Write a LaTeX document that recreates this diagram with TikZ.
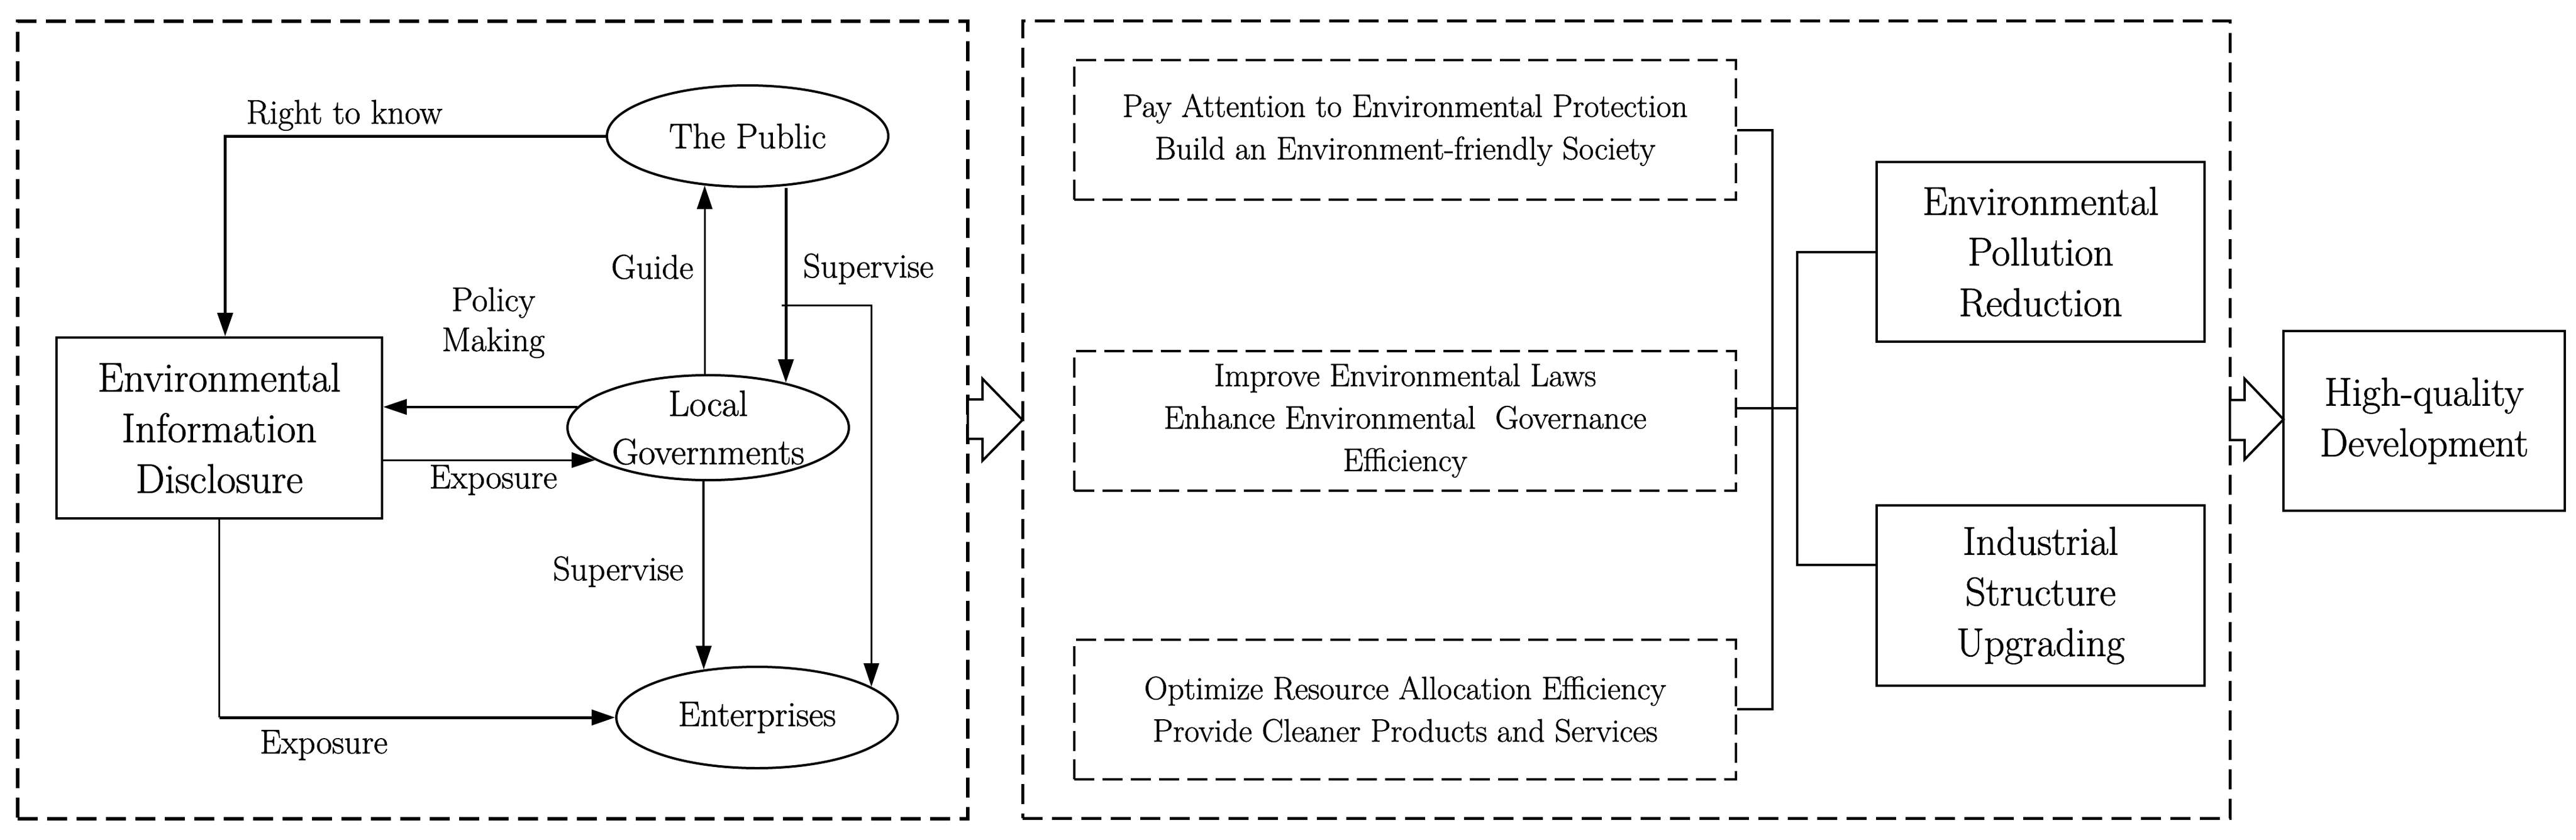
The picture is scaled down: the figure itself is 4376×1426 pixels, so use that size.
\documentclass[tikz,border=0pt]{standalone}
\usepackage{fontspec}
\setmainfont{Latin Modern Roman}[RawFeature={embolden=1.2}]
\usetikzlibrary{arrows.meta,shapes.geometric,calc}
\begin{document}
\begin{tikzpicture}[x=1pt,y=-1pt,
  panel/.style={draw,line width=6pt,dash pattern=on 34pt off 16pt,inner sep=0pt},
  dbox/.style={draw,line width=4pt,dash pattern=on 34pt off 14pt,inner sep=0pt,align=center,
    minimum width=1124pt,minimum height=237pt,font=\fontsize{55}{72}\selectfont},
  sbox/.style={draw,line width=4pt,inner sep=0pt,align=center,font=\fontsize{68}{86}\selectfont},
  ell/.style={draw,ellipse,line width=4pt,inner sep=0pt,align=center,
    minimum width=478pt,minimum height=172pt,font=\fontsize{60}{82}\selectfont},
  lbl/.style={inner sep=0pt,anchor=base,align=center,font=\fontsize{58}{68}\selectfont},
  arr/.style={-{Triangle[length=40pt,width=26pt]}},
  wthick/.style={line width=5pt},
  wmid/.style={line width=4pt},
  wthin/.style={line width=3pt},
  hollow/.style={draw,line width=4pt,fill=white,line join=miter}
]
\useasboundingbox (0,0) rectangle (4376,1426);

% panels
\node[panel,minimum width=1614pt,minimum height=1354pt] (pL) at (837,713) {};
\node[panel,line width=5pt,minimum width=2051pt,minimum height=1353pt] (pM) at (2762.5,712.5) {};

% left panel nodes
\node[sbox,minimum width=553pt,minimum height=307pt,font=\fontsize{70}{86}\selectfont] (eid) at (372.5,726.5)
  {Environmental\\Information\\Disclosure};
\node[ell] (pub) at (1270,231) {The Public};
\node[ell,font=\fontsize{62}{82}\selectfont] (loc) at (1203,726) {Local\\Governments};
\node[ell] (ent) at (1286,1218) {Enterprises};

% labels
\node[lbl] (l1) at (585,210) {Right to know};
\node[lbl] (l2) at (1108,473) {Guide};
\node[lbl] (l3) at (1475,471) {Supervise};
\node[lbl] (l4) at (838,596) {Policy\\Making};
\node[lbl] (l5) at (838,829) {Exposure};
\node[lbl] (l6) at (1050,985) {Supervise};
\node[lbl] (l7) at (550,1279) {Exposure};

% connectors left
\draw[wthick,arr] (pub.west) -| ([xshift=10pt]eid.north);
\draw[wthin,arr] (pub.229.2 |- loc.north) -- (pub.229.2);
\draw[wthick,arr] (loc.30.3 |- pub.south) -- (loc.30.3);
\coordinate (br) at (1328,518);
\draw[wthin,arr] (br) -| (ent.15.8);
\draw[wmid,arr] (loc.171.5) -- (loc.171.5 -| eid.east);
\draw[wthin,arr] (loc.196.3 -| eid.east) -- (loc.196.3);
\draw[wmid,arr] (ent.138.7 |- loc.south) -- (ent.138.7);
\draw[wthin] (eid.south) -- (eid.south |- ent.west) coordinate (ebend);
\draw[wthick,arr] (ebend) -- (ent.west);

% middle panel
\node[dbox] (b1) at (2387,220.5) {Pay Attention to Environmental Protection\\Build an Environment-friendly Society};
\node[dbox] (b2) at (2387,714) {Improve Environmental Laws\\Enhance Environmental~~Governance\\Efficiency};
\node[dbox] (b3) at (2387,1204) {Optimize Resource Allocation Efficiency\\Provide Cleaner Products and Services};

\node[sbox,minimum width=557pt,minimum height=305pt] (env) at (3466.5,427.5) {Environmental\\Pollution\\Reduction};
\node[sbox,minimum width=557pt,minimum height=306pt] (ind) at (3466.5,1011) {Industrial\\Structure\\Upgrading};
\node[sbox,minimum width=478pt,minimum height=305pt] (hq) at (4118,714.5) {High-quality\\Development};

\draw[wmid] (b1.east) -- ++(60pt,0) coordinate (j1) |- (b3.east);
\coordinate (j2) at (3053,693);
\draw[wmid] (b2.east |- j2) -- (j2);
\draw[wmid] (env.west) -| (j2) |- ([yshift=52pt]ind.west);

% hollow arrows
\path[hollow] (1644,678) -- (1669,678) -- (1669,643) -- (1737,713) -- (1669,782) -- (1669,745) -- (1644,745) -- cycle;
\path[hollow] (3788,679) -- (3813,679) -- (3813,643) -- (3879,712) -- (3813,780) -- (3813,747) -- (3788,747) -- cycle;
\end{tikzpicture}
\end{document}
